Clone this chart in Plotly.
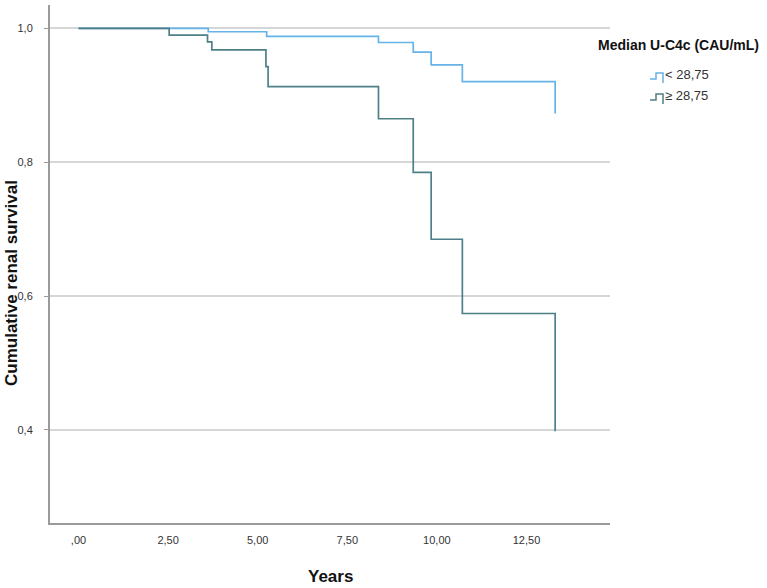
import plotly.graph_objects as go

# ---- data ----
years_low = [0, 3.62, 5.25, 8.37, 9.34, 9.84, 10.71, 13.30]
surv_low = [1.0, 0.995, 0.988, 0.979, 0.9645, 0.9455, 0.9206, 0.873]

years_high = [0, 2.53, 3.60, 3.72, 5.23, 5.29, 8.37, 9.34, 9.84, 10.71, 13.30]
surv_high = [1.0, 0.990, 0.980, 0.968, 0.943, 0.913, 0.865, 0.785, 0.685, 0.574, 0.398]

group_labels = ["< 28,75", "\u2265 28,75"]
legend_title = "Median U-C4c (CAU/mL)"

x_tickvals = [0, 2.5, 5, 7.5, 10, 12.5]
x_ticktext = [",00", "2,50", "5,00", "7,50", "10,00", "12,50"]
y_tickvals = [0.4, 0.6, 0.8, 1.0]
y_ticktext = ["0,4", "0,6", "0,8", "1,0"]

COL_LOW = "#66b3e8"
COL_HIGH = "#4e8088"
FONT = "Liberation Sans, Arial, sans-serif"

W, H = 767, 588
L, R, T, B = 50, 610, 5, 523


def px(x):
    return (x - L) / (R - L)


def py(y):
    return (B - y) / (B - T)


fig = go.Figure()
fig.add_trace(go.Scatter(x=years_low, y=surv_low, mode="lines", line_shape="hv",
                         line=dict(color=COL_LOW, width=1.7), name=group_labels[0],
                         showlegend=False))
fig.add_trace(go.Scatter(x=years_high, y=surv_high, mode="lines", line_shape="hv",
                         line=dict(color=COL_HIGH, width=1.7), name=group_labels[1],
                         showlegend=False))

fig.update_layout(
    width=W, height=H,
    margin=dict(l=L, r=W - R, t=T, b=H - B, autoexpand=False),
    paper_bgcolor="white", plot_bgcolor="white",
    font=dict(family=FONT, size=11, color="#333333"),
    showlegend=False,
)
fig.update_xaxes(range=[-0.795, 14.83], tickvals=x_tickvals, ticktext=x_ticktext,
                 showgrid=False, zeroline=False, showline=True, linecolor="#9a9a9a",
                 linewidth=2, ticks="", ticklabelstandoff=6, automargin=False,
                 tickfont=dict(family=FONT, size=11, color="#333333"))
fig.update_yaxes(range=[0.261, 1.035], tickvals=y_tickvals, ticktext=y_ticktext,
                 showgrid=True, gridcolor="#d6d6d6", gridwidth=2, zeroline=False,
                 showline=True, linecolor="#9a9a9a", linewidth=2, automargin=False,
                 ticks="outside", ticklen=4, tickcolor="#9a9a9a", ticklabelstandoff=9,
                 tickfont=dict(family=FONT, size=11, color="#333333"))

# axis titles
fig.add_annotation(text="<b>Cumulative renal survival</b>", xref="paper", yref="paper",
                   x=px(11), y=py(283), xanchor="center", yanchor="middle",
                   textangle=-90, showarrow=False,
                   font=dict(family=FONT, size=17, color="#111111"))
fig.add_annotation(text="<b>Years</b>", xref="paper", yref="paper",
                   x=px(330), y=py(576), xanchor="center", yanchor="middle",
                   showarrow=False, font=dict(family=FONT, size=17, color="#111111"))

# custom legend
fig.add_annotation(text="<b>" + legend_title + "</b>", xref="paper", yref="paper",
                   x=px(596), y=py(45), xanchor="left", yanchor="middle", showarrow=False,
                   font=dict(family=FONT, size=14, color="#111111"))
for label, col, c in [(group_labels[0], COL_LOW, 75), (group_labels[1], COL_HIGH, 96)]:
    path = (f"M {px(650)},{py(c + 4)} L {px(656)},{py(c + 4)} L {px(656)},{py(c - 2)} "
            f"L {px(663)},{py(c - 2)} L {px(663)},{py(c + 8)}")
    fig.add_shape(type="path", path=path, xref="paper", yref="paper",
                  line=dict(color=col, width=1.5))
    fig.add_annotation(text=label, xref="paper", yref="paper", x=px(663), y=py(c),
                       xanchor="left", yanchor="middle", showarrow=False,
                       font=dict(family=FONT, size=13, color="#333333"))

fig.write_html("out.html", config={"displayModeBar": False},
               post_script="document.body.style.margin='0px';")
